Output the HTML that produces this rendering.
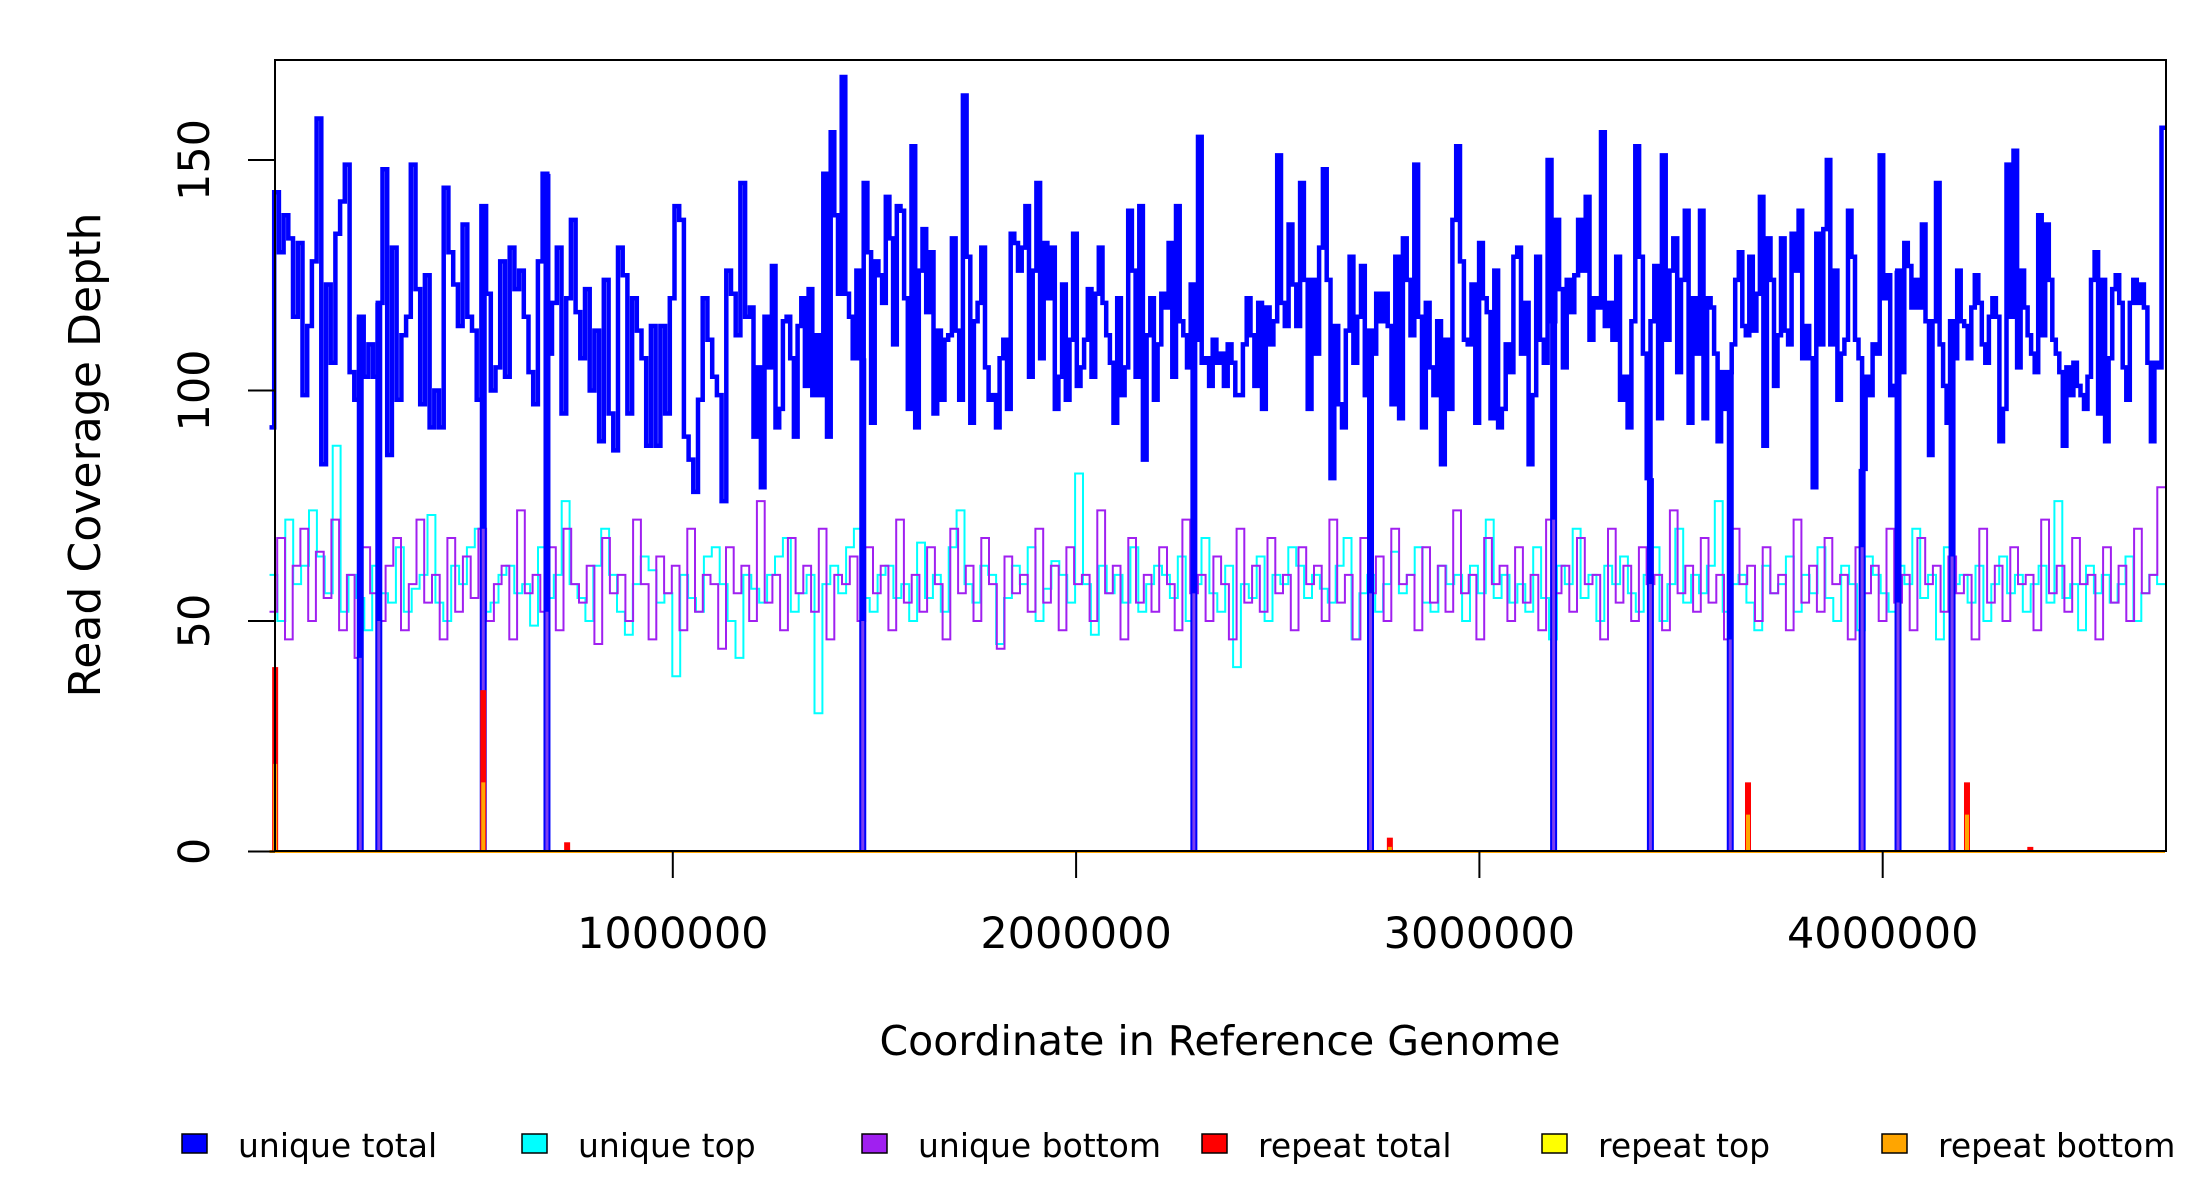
<!DOCTYPE html>
<html><head><meta charset="utf-8"><style>
html,body{margin:0;padding:0;background:#fff;}
svg{display:block;font-family:"DejaVu Sans","Liberation Sans",sans-serif;}
</style></head><body>
<svg id="chart" width="2200" height="1200" viewBox="0 0 2200 1200" xmlns="http://www.w3.org/2000/svg">
<rect x="0" y="0" width="2200" height="1200" fill="#fff"/>
<g id="plot"></g>
<rect x="275" y="60" width="1891" height="791" fill="none" stroke="#000" stroke-width="2"/>
<g id="axes"></g>
<text x="1220" y="1055" font-size="41" text-anchor="middle">Coordinate in Reference Genome</text>
<text transform="translate(100,455) rotate(-90)" font-size="44" text-anchor="middle" textLength="485" lengthAdjust="spacingAndGlyphs">Read Coverage Depth</text>
<g id="legend"></g>
</svg>
<script>
const segmentStarts = [0, 1191000, 2357000, 3547000];
const segmentEnds = [1191000, 2357000, 3547000, 4700000];
const totalSeg1 = [92,143,130,138,133,116,132,99,114,128,159,84,123,106,134,141,149,104,98,116,103,110,103,119,148,86,131,98,112,116,149,122,97,125,92,100,92,144,130,123,114,136,116,113,98,140,121,100,105,128,103,131,122,126,116,104,97,128,147,108,119,131,95,120,137,117,107,122,100,113,89,124,95,87,131,125,95,120,113,107,88,114,88,114,95,120,140,137,90,85,78,98,120,111,103,99,76,126,121,112,145,116];
const totalSeg2 = [118,90,105,79,116,105,127,92,96,115,116,107,90,114,120,101,122,99,112,99,147,90,156,138,121,168,121,116,107,126,107,145,130,93,128,125,119,142,133,110,140,139,120,96,153,92,126,135,117,130,95,113,98,111,112,133,113,98,164,129,93,115,119,131,105,98,99,92,107,111,96,134,132,126,131,140,103,126,145,107,132,120,131,96,103,123,98,111,134,101,105,111,122,103,121,131,119,112,106,93,120,99,105,139,126,103,140,85,112,120,98,110,121,118,132,103,140,115,112,105,123,111,155,106,107,101,111,106];
const totalSeg3 = [108,101,110,106,99,99,110,120,112,101,119,96,118,110,115,151,119,114,136,123,114,145,124,96,124,108,131,148,124,81,114,97,92,113,129,106,116,127,99,113,108,121,115,121,114,97,129,94,133,124,112,149,116,92,119,105,99,115,84,111,96,137,153,128,111,110,123,93,132,120,117,94,126,92,96,110,104,129,131,108,119,84,99,129,111,106,150,115,137,122,105,124,117,125,137,126,142,111,120,118,156,114,119,111,129,98,103,92,115,153,129,108,81,115,127,94,151,111,126,133,104,124,139,93,120,108];
const totalSeg4 = [139,94,120,118,108,89,104,96,104,110,124,130,114,112,129,113,121,142,88,133,124,101,112,133,113,110,134,126,139,107,114,107,79,134,110,135,150,110,126,98,108,111,139,129,111,107,83,103,99,110,108,151,120,125,99,101,126,104,132,127,118,124,118,136,115,86,115,145,110,101,93,115,107,126,115,114,107,118,125,119,110,106,116,120,116,89,96,149,116,152,105,126,118,112,108,104,138,112,136,124,111,108,104,88,105,99,106,101,99,96,103,124,130,95,124,89,107,122,125,119,105,98,119,124,119,123,118,106,89,106,105,157];
const uniqueTop = [60,50,72,58,62,74,64,56,88,52,60,55,48,62,56,54,66,52,57,60,73,54,50,62,58,66,70,52,54,60,62,56,58,49,66,55,60,76,58,55,50,62,70,60,52,47,58,64,61,54,56,38,60,55,52,64,66,58,50,42,60,57,54,60,64,68,52,56,60,30,58,62,56,66,70,55,52,60,62,55,58,50,67,55,60,52,66,74,58,54,62,60,45,55,62,58,66,50,57,63,60,54,82,58,47,62,56,60,54,66,52,58,62,60,55,64,50,58,68,56,52,62,40,58,55,64,50,60,58,66,62,55,60,57,54,62,68,46,56,60,52,58,65,56,60,66,54,52,62,58,60,50,62,56,72,55,60,54,58,52,66,55,46,62,58,70,55,60,50,62,58,64,56,52,60,66,50,58,70,54,60,56,62,76,52,58,60,54,48,62,56,58,64,52,60,56,66,55,50,62,58,48,64,60,56,52,62,58,70,55,60,46,66,58,60,54,62,50,58,64,56,60,52,58,62,54,76,55,58,48,62,56,60,54,58,64,50,56,60,58];
const uniqueBottom = [52,68,46,62,70,50,65,55,72,48,60,42,66,56,50,62,68,48,58,72,54,60,46,68,52,64,55,70,50,58,62,46,74,56,60,52,66,48,70,58,54,62,45,68,56,60,50,72,58,46,64,56,62,48,70,52,60,58,44,66,56,62,50,76,54,60,48,68,56,62,52,70,46,60,58,64,50,66,56,62,48,72,54,60,52,66,58,46,70,56,62,50,68,58,44,64,56,60,52,70,54,62,48,66,58,60,50,74,56,62,46,68,54,60,52,66,58,48,72,56,60,50,64,58,46,70,54,62,52,68,56,60,48,66,58,62,50,72,54,60,46,68,56,64,50,70,58,60,48,66,54,62,52,74,56,60,46,68,58,62,50,66,54,60,48,72,56,62,52,68,58,60,46,70,54,62,50,66,58,60,48,74,56,62,52,68,54,60,46,70,58,62,50,66,56,60,48,72,54,62,52,68,58,60,46,66,56,62,50,70,54,60,48,68,58,62,52,64,56,60,46,70,54,62,50,66,58,60,48,72,56,62,52,68,58,60,46,66,54,62,50,70,56,60,79];
const dropoutPositions = [225000,271000,530000,688000,1471000,2292000,2730000,3184000,3424000,3622000,3949000,4038000,4172000];
const repeatPositions = [14000,530000,738000,2778000,3666000,4209000,4366000];
const repeatTotal = [40,35,2,3,15,15,1];
const repeatBottom = [19,15,0,1,8,8,0];
const yTicks = [0,50,100,150];
const xTicks = [1000000,2000000,3000000,4000000];
const legendLabels = ["unique total","unique top","unique bottom","repeat total","repeat top","repeat bottom"];
const legendColors = ["#0000ff","#00ffff","#a020f0","#ff0000","#ffff00","#ffa500"];

const NS = "http://www.w3.org/2000/svg";
const X0 = 269.5, XS = 403.3 / 1e6, Y0 = 851.5, YS = 4.61;
const XMAX = 4700000;
const xScale = v => X0 + v * XS;
const yScale = v => Y0 - v * YS;
const plot = document.getElementById('plot');
const axes = document.getElementById('axes');
const legend = document.getElementById('legend');

function stepPathRange(vals, start, end, first){
  let d = '';
  const w = (end - start) / vals.length;
  for (let i = 0; i < vals.length; i++) {
    const a = start + i * w, b = start + (i + 1) * w;
    const y = yScale(vals[i]).toFixed(1);
    d += ((first && i === 0) ? 'M' : 'L') + xScale(a).toFixed(1) + ',' + y + 'L' + xScale(b).toFixed(1) + ',' + y;
  }
  return d;
}
function addPath(d, color, w, name){
  const p = document.createElementNS(NS, 'path');
  p.setAttribute('d', d);
  p.setAttribute('fill', 'none');
  p.setAttribute('stroke', color);
  p.setAttribute('stroke-width', w);
  
  
  plot.appendChild(p);
}
addPath(stepPathRange(uniqueTop, 0, XMAX, true), '#00ffff', 2, 'unique-top-line');
addPath(stepPathRange(uniqueBottom, 0, XMAX, true), '#a020f0', 2, 'unique-bottom-line');
const totalSegs = [totalSeg1, totalSeg2, totalSeg3, totalSeg4];
let totalD = '';
totalSegs.forEach((seg, k) => { totalD += stepPathRange(seg, segmentStarts[k], segmentEnds[k], k === 0); });
addPath(totalD, '#0000ff', 4.5, 'unique-total-line');

function totalAt(pos){
  for (let k = 0; k < totalSegs.length; k++) {
    if (pos >= segmentStarts[k] && pos < segmentEnds[k]) {
      const seg = totalSegs[k];
      const i = Math.floor((pos - segmentStarts[k]) / (segmentEnds[k] - segmentStarts[k]) * seg.length);
      return seg[Math.min(seg.length - 1, i)];
    }
  }
  return 100;
}
dropoutPositions.forEach(pos => {
  const x = xScale(pos);
  const bi = Math.min(uniqueBottom.length - 1, Math.floor(pos / XMAX * uniqueBottom.length));
  const specs = [['#0000ff', totalAt(pos), 7], ['#7b3ff0', uniqueBottom[bi], 3]];
  specs.forEach(([c, v, w]) => {
    const l = document.createElementNS(NS, 'line');
    l.setAttribute('x1', x); l.setAttribute('x2', x);
    l.setAttribute('y1', yScale(v)); l.setAttribute('y2', yScale(0));
    l.setAttribute('stroke', c); l.setAttribute('stroke-width', w);
    
    
    plot.appendChild(l);
  });
});

const base = document.createElementNS(NS, 'line');
base.setAttribute('x1', xScale(0)); base.setAttribute('x2', xScale(XMAX));
base.setAttribute('y1', yScale(0)); base.setAttribute('y2', yScale(0));
base.setAttribute('stroke', '#ffa500'); base.setAttribute('stroke-width', 3);


plot.appendChild(base);

repeatPositions.forEach((pos, i) => {
  const x = xScale(pos);
  const r = document.createElementNS(NS, 'rect');
  r.setAttribute('x', x - 3); r.setAttribute('width', 6);
  r.setAttribute('y', yScale(repeatTotal[i])); r.setAttribute('height', repeatTotal[i] * YS);
  r.setAttribute('fill', '#ff0000');
  
  
  plot.appendChild(r);
  if (repeatBottom[i] > 0) {
    const o = document.createElementNS(NS, 'rect');
    o.setAttribute('x', x - 2); o.setAttribute('width', 4);
    o.setAttribute('y', yScale(repeatBottom[i])); o.setAttribute('height', repeatBottom[i] * YS);
    o.setAttribute('fill', '#ffa500');
    
    
    plot.appendChild(o);
  }
});

yTicks.forEach(v => {
  const y = yScale(v);
  const t = document.createElementNS(NS, 'line');
  t.setAttribute('x1', 248); t.setAttribute('x2', 275);
  t.setAttribute('y1', y); t.setAttribute('y2', y);
  t.setAttribute('stroke', '#000'); t.setAttribute('stroke-width', 2);
  
  
  axes.appendChild(t);
  const tx = document.createElementNS(NS, 'text');
  tx.setAttribute('transform', 'translate(209,' + y + ') rotate(-90)');
  tx.setAttribute('text-anchor', 'middle');
  tx.setAttribute('font-size', '43');
  tx.textContent = String(v);
  
  
  axes.appendChild(tx);
});
xTicks.forEach(v => {
  const x = xScale(v);
  const t = document.createElementNS(NS, 'line');
  t.setAttribute('x1', x); t.setAttribute('x2', x);
  t.setAttribute('y1', 851); t.setAttribute('y2', 878);
  t.setAttribute('stroke', '#000'); t.setAttribute('stroke-width', 2);
  
  
  axes.appendChild(t);
  const tx = document.createElementNS(NS, 'text');
  tx.setAttribute('x', x); tx.setAttribute('y', 948);
  tx.setAttribute('text-anchor', 'middle');
  tx.setAttribute('font-size', '43');
  tx.textContent = String(v);
  
  
  axes.appendChild(tx);
});

legendLabels.forEach((lab, i) => {
  const bx = 182 + i * 340;
  const g = document.createElementNS(NS, 'g');
  
  
  const r = document.createElementNS(NS, 'rect');
  r.setAttribute('x', bx); r.setAttribute('y', 1134);
  r.setAttribute('width', 25); r.setAttribute('height', 19);
  r.setAttribute('fill', legendColors[i]); r.setAttribute('stroke', '#000'); r.setAttribute('stroke-width', 1.5);
  
  
  g.appendChild(r);
  const tx = document.createElementNS(NS, 'text');
  tx.setAttribute('x', bx + 56); tx.setAttribute('y', 1157);
  tx.setAttribute('font-size', '33');
  tx.textContent = lab;
  
  
  g.appendChild(tx);
  legend.appendChild(g);
});
</script>
</body></html>
